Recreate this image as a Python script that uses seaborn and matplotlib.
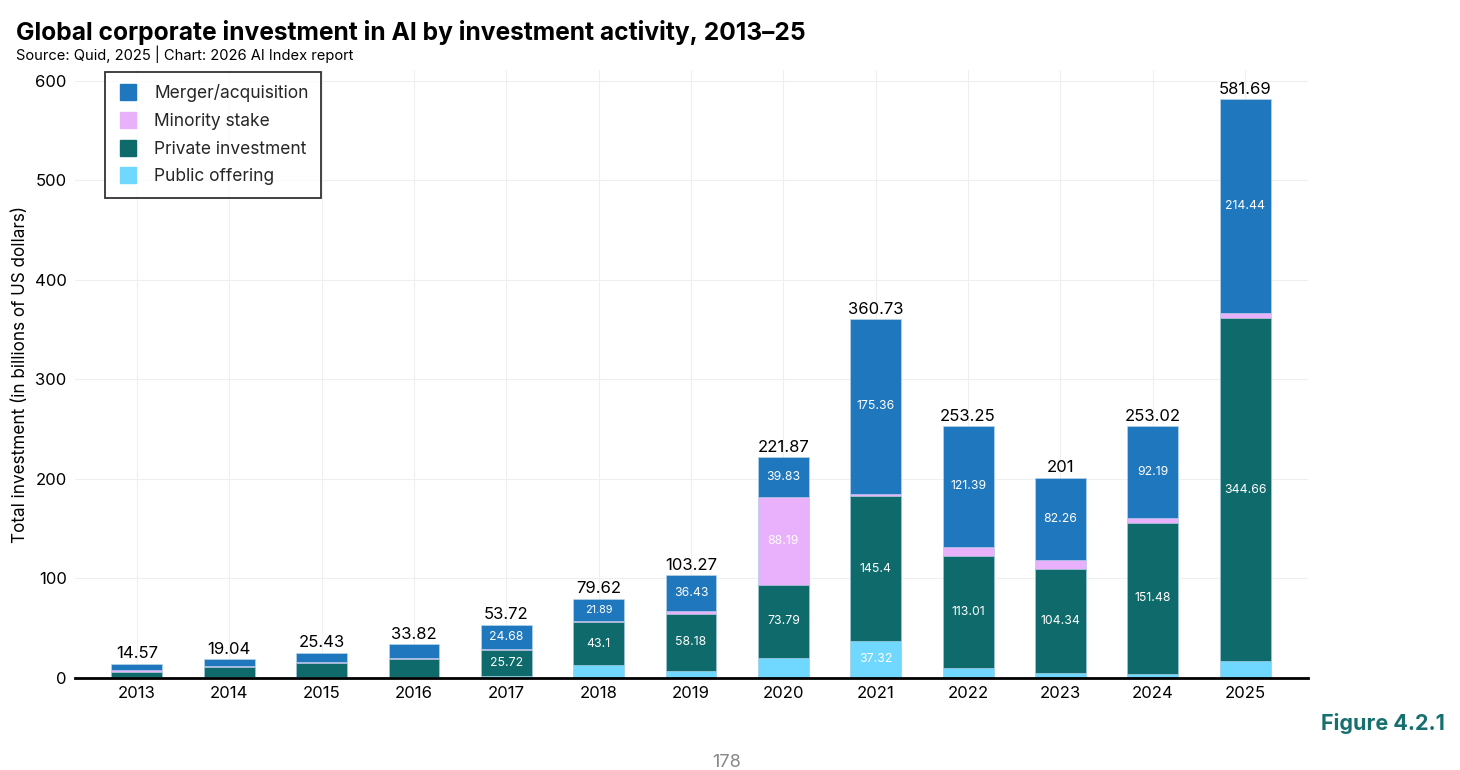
import numpy as np
import pandas as pd
import matplotlib
matplotlib.use("Agg")
import matplotlib.pyplot as plt
from matplotlib.lines import Line2D
import seaborn as sns

years = ["2013", "2014", "2015", "2016", "2017", "2018", "2019",
         "2020", "2021", "2022", "2023", "2024", "2025"]
public_offering = [0.8, 1.5, 1.5, 1.5, 2.0, 13.1, 6.6, 20.06, 37.32, 9.9, 5.4, 4.5, 17.0]
private_investment = [5.6, 9.8, 13.5, 17.5, 25.72, 43.1, 58.18, 73.79, 145.4, 113.01, 104.34, 151.48, 344.66]
minority_stake = [1.3, 0.4, 0.8, 1.0, 1.32, 1.53, 2.06, 88.19, 2.65, 8.95, 9.0, 4.85, 5.59]
merger_acquisition = [6.87, 7.34, 9.63, 13.82, 24.68, 21.89, 36.43, 39.83, 175.36, 121.39, 82.26, 92.19, 214.44]
totals = [14.57, 19.04, 25.43, 33.82, 53.72, 79.62, 103.27, 221.87, 360.73, 253.25, 201, 253.02, 581.69]

series_names = ["Public offering", "Private investment", "Minority stake", "Merger/acquisition"]
series_vals = [public_offering, private_investment, minority_stake, merger_acquisition]
colors = {"Merger/acquisition": "#1f77bd", "Minority stake": "#e9b0fb",
          "Private investment": "#0f6a6b", "Public offering": "#70d7ff"}

sns.set_theme(style="white")
plt.rcParams["font.family"] = ["Inter", "DejaVu Sans"]

fig = plt.figure(figsize=(14.6, 7.7), dpi=100)
ax = fig.add_axes([75 / 1460, (770 - 678) / 770, (1308 - 75) / 1460, (678 - 70) / 770])

# cumulative stacks
cum = np.zeros(len(years))
bottoms = []
tops = []
for vals in series_vals:
    bottoms.append(cum.copy())
    cum = cum + np.array(vals)
    tops.append(cum.copy())

# draw from the top layer down so lower layers overlap
for name, top in reversed(list(zip(series_names, tops))):
    df = pd.DataFrame({"year": years, "value": top})
    sns.barplot(data=df, x="year", y="value", order=years, color=colors[name],
                saturation=1, width=0.55, edgecolor=(0.75, 0.85, 0.92, 0.6), linewidth=0.7,
                ax=ax, errorbar=None, zorder=3)

# segment labels
for name, vals, bot in zip(series_names, series_vals, bottoms):
    for i, v in enumerate(vals):
        if v >= 21:
            fs = 7.8 if v < 23 else 8.8
            ax.text(i, bot[i] + v / 2, f"{v:g}", ha="center", va="center",
                    color="white", fontsize=fs, zorder=5)

# totals
for i, t in enumerate(totals):
    ax.text(i, t + 2.5, f"{t:g}", ha="center", va="bottom", color="black",
            fontsize=12, zorder=5)

ax.set_xlim(-0.67, 12.68)
ax.set_ylim(0, 611)
ax.set_yticks(range(0, 601, 100))
ax.grid(True, color="#efefef", linewidth=0.8, zorder=0)
ax.set_axisbelow(True)
for s in ["top", "right", "left"]:
    ax.spines[s].set_visible(False)
ax.spines["bottom"].set_color("black")
ax.spines["bottom"].set_linewidth(2)
ax.spines["bottom"].set_zorder(6)
ax.tick_params(axis="both", length=0, labelsize=12, colors="black", pad=6)
ax.tick_params(axis="y", pad=6)
ax.set_xlabel("")
ax.set_ylabel("Total investment (in billions of US dollars)", fontsize=12.3, color="black", labelpad=4)

legend_order = ["Merger/acquisition", "Minority stake", "Private investment", "Public offering"]
handles = [Line2D([0], [0], marker="s", linestyle="", markersize=12,
                  markerfacecolor=colors[n], markeredgecolor=colors[n]) for n in legend_order]
leg = ax.legend(handles, legend_order, loc="upper left", bbox_to_anchor=(30 / 1233, 1 - 2 / 608),
                borderaxespad=0,
                fontsize=12.5, frameon=True, fancybox=False, edgecolor="black",
                handletextpad=0.95, borderpad=0.7, labelspacing=0.62, handlelength=1.2)
leg.get_frame().set_linewidth(1.3)

fig.text(16 / 1460, 1 - 40 / 770, "Global corporate investment in AI by investment activity, 2013\u201325",
         fontsize=17.7, fontweight="bold", color="black", va="baseline", ha="left")
fig.text(16 / 1460, 1 - 60 / 770, "Source: Quid, 2025 | Chart: 2026 AI Index report",
         fontsize=10.6, color="black", va="baseline", ha="left")
fig.text(1445 / 1460, 1 - 730 / 770, "Figure 4.2.1", fontsize=15.5, fontweight="bold",
         color="#17706f", va="baseline", ha="right")
fig.text(727 / 1460, 1 - 767 / 770, "178", fontsize=13, color="#888888", va="baseline", ha="center")

fig.savefig("out.png", dpi=100)
